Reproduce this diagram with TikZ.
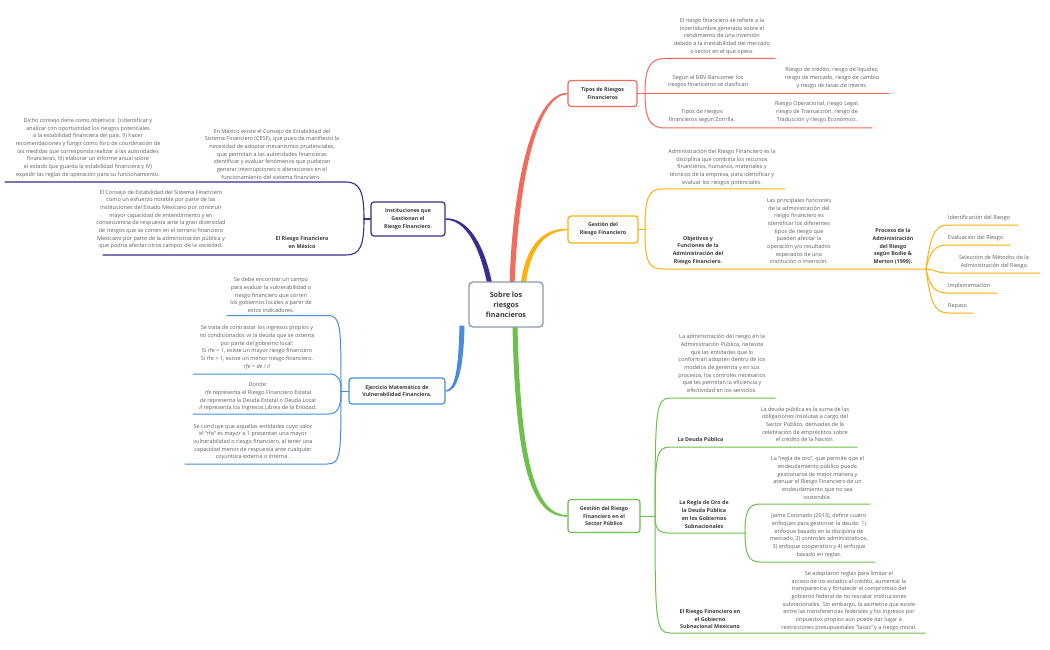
\documentclass[tikz,border=0pt]{standalone}
\usepackage{fontspec}
\setmainfont{Open Sans}
\usetikzlibrary{calc}
\pgfdeclarelayer{bg}
\pgfsetlayers{bg,main}
\definecolor{cred}{HTML}{F26B5B}
\definecolor{corange}{HTML}{FBB20F}
\definecolor{cpurple}{HTML}{3B2C8E}
\definecolor{cblue}{HTML}{4A8CDB}
\definecolor{cgreen}{HTML}{6DC04B}
\definecolor{cborder}{HTML}{8C9AAD}
\definecolor{txtgrey}{HTML}{5E5E5E}
\definecolor{txtdark}{HTML}{3A3A3A}
\begin{document}
\begin{tikzpicture}[x=1pt,y=-1pt,
  box/.style={draw, rounded corners=3pt, line width=1.2pt, fill=white, align=center, text=txtdark, inner sep=0pt, font=\fontsize{5.3}{7.9}\selectfont\bfseries},
  desc/.style={align=center, text=txtgrey, inner sep=0pt, font=\fontsize{5.5}{7.65}\selectfont},
  lab/.style={align=center, text=txtdark, inner sep=0pt, font=\fontsize{5.35}{7.8}\selectfont\bfseries},
  leaf/.style={anchor=west, text=txtgrey, inner sep=0pt, font=\fontsize{5.5}{7.65}\selectfont},
  thin/.style={line width=1pt, line cap=round}
]
\useasboundingbox (0,0) rectangle (1050,650);

% ---------- main boxes ----------
\node[box, draw=cborder, line width=1.4pt, rounded corners=4pt, minimum width=74pt, minimum height=45pt, font=\fontsize{7.2}{10}\selectfont\bfseries] (ctr) at (506,304.5) {Sobre los\\riesgos\\financieros};
\node[box, draw=cred, minimum width=69pt, minimum height=26pt] (tipos) at (602.5,93.5) {Tipos de Riesgos\\Financieros};
\node[box, draw=corange, minimum width=70pt, minimum height=27pt] (gestion) at (603,229.5) {Gestión del\\Riesgo Financiero};
\node[box, draw=cgreen, minimum width=72pt, minimum height=33pt] (sector) at (604,516) {Gestión del Riesgo\\Financiero en el\\Sector Público};
\node[box, draw=cpurple, minimum width=74pt, minimum height=34pt] (inst) at (408,219) {Instituciones que\\Gestionan el\\Riesgo Financiero.};
\node[box, draw=cblue, minimum width=96pt, minimum height=26pt] (ejer) at (397,391) {Ejercicio Matemático de\\Vulnerabilidad Financiera.};

% ---------- red texts ----------
\node[desc] (t1) at (722,36.5) {El riesgo financiero se refiere a la\\incertidumbre generada sobre el\\rendimiento de una inversión\\debido a la inestabilidad del mercado\\o sector en el que opera.};
\node[desc] (t2) at (708,81.5) {Según el BBV-Bancomer los\\riesgos financieros se clasifican};
\node[desc] (t3) at (832,78) {Riesgo de crédito, riesgo de liquidez,\\riesgo de mercado, riesgo de cambio\\y riesgo de tasas de interés.};
\node[desc] (t4) at (702,116) {Tipos de riesgos\\financieros según Zorrilla.};
\node[desc] (t5) at (817,112) {Riesgo Operacional, riesgo Legal,\\riesgo de Transacción, riesgo de\\Traducción y riesgo Económico.};

% ---------- orange texts ----------
\node[desc] (o1) at (722,167.5) {Administración del Riesgo Financiero es la\\disciplina que combina los recursos\\financieros, humanos, materiales y\\técnicos de la empresa, para identificar y\\evaluar los riesgos potenciales.};
\node[lab] (o2) at (698,250.5) {Objetivos y\\Funciones de la\\Administración del\\Riesgo Financiero.};
\node[desc] (o3) at (799,231) {Las principales funciones\\de la administración del\\riesgo financiero es\\identificar los diferentes\\tipos de riesgo que\\pueden afectar la\\operación y/o resultados\\esperados de una\\institución o inversión.};
\node[lab] (o4) at (893,246.5) {Proceso de la\\Administración\\del Riesgo\\según Bodie \&\\Merton (1999).};
\node[leaf] (p1) at (948,218) {Identificación del Riesgo};
\node[leaf] (p2) at (948,238) {Evaluación del Riesgo};
\node[desc] (p3) at (994,262) {Selección de Métodos de la\\Administración del Riesgo};
\node[leaf] (p4) at (948,286) {Implementación};
\node[leaf] (p5) at (948,306) {Repaso};

% ---------- purple texts ----------
\node[desc] (u1) at (272,154) {En México existe el Consejo de Estabilidad del\\Sistema Financiero (CESF),  que puso de manifiesto la\\necesidad de adoptar mecanismos prudenciales,\\que permitan a las autoridades financieras\\identificar y evaluar fenómenos que pudieran\\generar interrupciones o alteraciones en el\\funcionamiento del sistema financiero .};
\node[desc] (u2) at (88,148) {Dicho consejo tiene como objetivos: I) identificar y\\analizar con oportunidad los riesgos potenciales\\a la estabilidad financiera del país, II) hacer\\recomendaciones y fungir como foro de coordinación de\\las medidas que corresponda realizar a las autoridades\\financieras, III) elaborar un informe anual sobre\\el estado que guarda la estabilidad financiera y IV)\\expedir las reglas de operación para su funcionamiento.};
\node[lab] (u3) at (302,242.5) {El Riesgo Financiero\\en México};
\node[desc] (u4) at (161,219.5) {El Consejo de Estabilidad del Sistema Financiero\\como un esfuerzo notable por parte de las\\instituciones del Estado Mexicano por construir\\mayor capacidad de entendimiento y en\\consecuencia de respuesta ante la gran diversidad\\de riesgos que se corren en el terreno financiero\\Mexicano por parte de la administración pública y\\que podría afectar otros campos de la sociedad.};

% ---------- blue texts ----------
\node[desc] (b1) at (271,295) {Se debe encontrar un campo\\para evaluar la vulnerabilidad o\\riesgo financiero que corren\\los gobiernos locales a partir de\\estos indicadores.};
\node[desc] (b2) at (257,347.5) {Se trata de contrastar los ingresos propios y\\no condicionados vs la deuda que se ostenta\\por parte del gobierno local:\\Si rfe > 1, existe un mayor riesgo financiero\\Si rfe < 1, existe un menor riesgo financiero.\\\textit{rfe = de / il}};
\node[desc] (b3) at (258,397) {Donde:\\\textit{rfe} representa el Riesgo Financiero Estatal\\\textit{de} representa la Deuda Estatal o Deuda Local\\\textit{il} representa los Ingresos Libres de la Entidad.};
\node[desc] (b4) at (253,442) {Se concluye que aquellas entidades cuyo valor\\el “rfe” es mayor a 1 presentan una mayor\\vulnerabilidad o riesgo financiero, al tener una\\capacidad menor de respuesta ante cualquier\\coyuntura externa o interna .};

% ---------- green texts ----------
\node[desc] (g1) at (722,363.5) {La administración del riesgo en la\\Administración Pública, necesita\\que las entidades que lo\\conforman adopten dentro de los\\modelos de gerencia y en sus\\procesos, los controles necesarios\\que les permitan la eficiencia y\\efectividad en los servicios.};
\node[lab] (g2) at (700.5,439) {La Deuda Pública};
\node[desc] (g3) at (805,424.5) {La deuda pública es la suma de las\\obligaciones insolutas a cargo del\\Sector Público, derivadas de la\\celebración de empréstitos sobre\\el crédito de la Nación.};
\node[lab] (g4) at (704,514.5) {La Regla de Oro de\\la Deuda Pública\\en los Gobiernos\\Subnacionales};
\node[desc] (g5) at (817.5,478) {La “regla de oro”, que permite que el\\endeudamiento público pueda\\gestionarse de mejor manera y\\atenuar el Riesgo Financiero de un\\endeudamiento que no sea\\sostenible.};
\node[desc] (g6) at (819,535.5) {Jaime Coronado (2013), define cuatro\\enfoques para gestionar la deuda: 1)\\enfoque basado en la disciplina de\\mercado, 2) controles administrativos,\\3) enfoque cooperativo y 4) enfoque\\basado en reglas.};
\node[lab] (g7) at (710,619) {El Riesgo Financiero en\\el Gobierno\\Subnacional Mexicano};
\node[desc] (g8) at (849,601) {Se adoptaron reglas para limitar el\\acceso de los estados al crédito, aumentar la\\transparencia y fortalecer el compromiso del\\gobierno federal de no rescatar instituciones\\subnacionales. Sin embargo, la asimetría que existe\\entre las transferencias federales y los ingresos por\\impuestos propios aún puede dar lugar a\\restricciones presupuestales “laxas” y a riesgo moral.};

% ---------- junction coordinates ----------
\coordinate (rj) at (645,93.5);
\coordinate (oj) at (645,229.5);
\coordinate (of) at (926,269);
\coordinate (pj) at (364,219);
\coordinate (bj) at (341,391);
\coordinate (gj) at (655,516);
\coordinate (gs) at (745,533);

\begin{pgfonlayer}{bg}
\fill[white] (0,0) rectangle (1050,650);
% tapered main branches
\fill[cred] ($(ctr.north)+(3.5,4)$) .. controls (513,170) and (536,92.8) .. ($(tipos.west)+(0,-0.7)$) -- ($(tipos.west)+(0,0.7)$) .. controls (539,95.2) and (519,170) .. ($(ctr.north)+(8.5,4)$) -- cycle;
\fill[corange] ($(ctr.north)+(14.5,4)$) .. controls (525.5,244) and (544,228) .. ($(gestion.west)+(0,-0.7)$) -- ($(gestion.west)+(0,0.7)$) .. controls (546,231) and (530.5,246) .. ($(ctr.north)+(19.5,4)$) -- cycle;
\fill[cpurple] ($(ctr.north)+(-13.5,4)$) .. controls (484.5,244) and (468,217.8) .. ($(inst.east)+(0,-0.7)$) -- ($(inst.east)+(0,0.7)$) .. controls (466,220.2) and (479.5,246) .. ($(ctr.north)+(-18.5,4)$) -- cycle;
\fill[cblue] ($(ctr.south)+(-41.5,-2)$) .. controls (463.5,372) and (457,392) .. ($(ejer.east)+(0,0.7)$) -- ($(ejer.east)+(0,-0.7)$) .. controls (455,390) and (458.5,369) .. ($(ctr.south)+(-46.5,-2)$) -- cycle;
\fill[cgreen] ($(ctr.south)+(6.5,-2)$) .. controls (515.5,472) and (533,517.2) .. ($(sector.west)+(0,0.7)$) -- ($(sector.west)+(0,-0.7)$) .. controls (537,514.8) and (520.5,468) .. ($(ctr.south)+(11.5,-2)$) -- cycle;

% red sub-branches
\draw[thin, cred] (tipos.east) -- (rj) -- (889,93.5);
\draw[thin, cred] (rj) .. controls (645,68) and (650,58.5) .. (665,58.5) -- (775,58.5);
\draw[thin, cred] (rj) .. controls (645,119) and (650,128) .. (665,128) -- (872,128);

% orange sub-branches
\draw[thin, corange] (gestion.east) -- (oj);
\draw[thin, corange] (oj) .. controls (645,199) and (648,189) .. (662,189) -- (785,189);
\draw[thin, corange] (oj) .. controls (645,260) and (648,269) .. (662,269) -- (of);
\draw[thin, corange] (of) .. controls (930,238) and (934,225) .. (948,225) -- (1018,225);
\draw[thin, corange] (of) .. controls (930,252) and (934,245) .. (948,245) -- (1010,245);
\draw[thin, corange] (of) .. controls (933,269) and (936,273) .. (948,273) -- (1040,273);
\draw[thin, corange] (of) .. controls (930,286) and (934,293) .. (948,293) -- (997,293);
\draw[thin, corange] (of) .. controls (930,300) and (934,313) .. (948,313) -- (973,313);

% purple sub-branches
\draw[thin, cpurple, line width=1.1pt] (inst.west) -- (pj);
\draw[thin, cpurple, line width=1.1pt] (pj) .. controls (364,192) and (360,182) .. (346,182) -- (5,182);
\draw[thin, cpurple, line width=1.1pt] (pj) .. controls (364,246) and (360,255) .. (346,255) -- (103,255);

% blue sub-branches
\draw[thin, cblue] (ejer.west) -- (bj);
\draw[thin, cblue] (bj) .. controls (341,325) and (341,315.5) .. (327,315.5) -- (227,315.5);
\draw[thin, cblue] (bj) .. controls (341,380) and (339,374) .. (329,374) -- (193,374);
\draw[thin, cblue] (bj) .. controls (341,404) and (339,414) .. (329,414) -- (193,414);
\draw[thin, cblue] (bj) .. controls (341,455) and (341,464) .. (327,464) -- (185,464);

% green sub-branches
\draw[thin, cgreen] (sector.east) -- (gj);
\draw[thin, cgreen] (gj) .. controls (655,410) and (656,398) .. (670,398) -- (775,398);
\draw[thin, cgreen] (gj) .. controls (655,458) and (656,447) .. (670,447) -- (857,447);
\draw[thin, cgreen] (gj) .. controls (655,526) and (657,533) .. (668,533) -- (gs);
\draw[thin, cgreen] (gj) .. controls (655,622) and (656,633) .. (670,633) -- (925,633);
\draw[thin, cgreen] (gs) .. controls (745,512) and (748,504) .. (760,504) -- (870,504);
\draw[thin, cgreen] (gs) .. controls (745,553) and (748,562) .. (760,562) -- (875,562);
\end{pgfonlayer}
\end{tikzpicture}
\end{document}
